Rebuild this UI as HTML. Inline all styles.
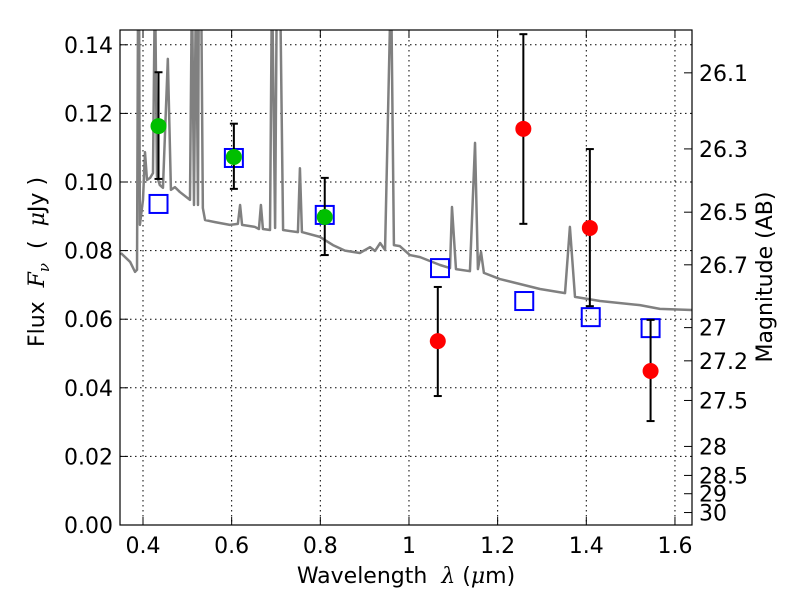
<!DOCTYPE html>
<html><head><meta charset="utf-8"><style>
body{margin:0;background:#fff;}
svg text{font-family:"DejaVu Sans","Liberation Sans",sans-serif;fill:#000;white-space:pre;}
</style></head><body>
<svg id="chart" width="800" height="600" xmlns="http://www.w3.org/2000/svg">
<defs><clipPath id="clip"><rect x="120" y="30" width="572" height="495"/></clipPath></defs>
<rect x="0" y="0" width="800" height="600" fill="#fff"/>
<g id="grid"></g>
<g id="spec" clip-path="url(#clip)"></g>
<g id="marks"></g>
<rect x="120" y="30" width="572" height="495" fill="none" stroke="#000" stroke-width="1.2"/>
<g id="axes"></g>
<text x="44" y="262" font-size="22" text-anchor="middle" transform="rotate(-90 44 262)">Flux  <tspan font-family="DejaVu Serif" font-style="italic">F</tspan><tspan font-family="DejaVu Serif" font-style="italic" font-size="15" dy="5">ν</tspan><tspan dy="-5">  (  </tspan><tspan font-family="DejaVu Serif" font-style="italic">μ</tspan>Jy )</text>
<text x="406" y="583" font-size="22" text-anchor="middle">Wavelength  <tspan font-family="DejaVu Serif" font-style="italic">λ</tspan> (<tspan font-family="DejaVu Serif" font-style="italic">μ</tspan>m)</text>
<text x="772" y="277" font-size="22" text-anchor="middle" transform="rotate(-90 772 277)">Magnitude (AB)</text>
</svg>
<script>
const specWave=[0.35,0.371,0.382,0.3865,0.389,0.391,0.393,0.4,0.4045,0.409,0.416,0.4225,0.427,0.4315,0.438,0.445,0.456,0.463,0.472,0.483,0.506,0.5105,0.515,0.5195,0.524,0.526,0.531,0.535,0.54,0.5625,0.596,0.614,0.619,0.6235,0.6525,0.6615,0.666,0.6705,0.6865,0.691,0.698,0.702,0.709,0.716,0.7315,0.7495,0.754,0.7585,0.799,0.8285,0.8555,0.889,0.912,0.9235,0.935,0.946,0.9595,0.966,0.9795,1.002,1.025,1.07,1.0925,1.097,1.106,1.1375,1.149,1.1555,1.1625,1.169,1.205,1.2955,1.352,1.363,1.3745,1.431,1.521,1.566,1.638];
const specFlux=[0.0793,0.0767,0.0738,0.0744,0.16,0.16,0.0875,0.0948,0.1087,0.1006,0.1012,0.1026,0.16,0.1017,0.0991,0.0983,0.1359,0.0977,0.0985,0.0971,0.0948,0.16,0.0933,0.16,0.0933,0.16,0.16,0.0924,0.0889,0.0883,0.0875,0.0878,0.0933,0.0875,0.0869,0.0863,0.0933,0.0863,0.086,0.16,0.0866,0.16,0.16,0.086,0.0857,0.0854,0.104,0.0854,0.084,0.0816,0.08,0.0793,0.081,0.0799,0.0822,0.0802,0.16,0.0816,0.0813,0.0787,0.0781,0.0758,0.0749,0.0927,0.0746,0.074,0.1114,0.0746,0.0796,0.0735,0.0717,0.0688,0.0676,0.0869,0.0665,0.0653,0.0641,0.063,0.0627];
const detWave=[0.435,0.605,0.81];
const detFlux=[0.1163,0.1073,0.0898];
const detHi=[0.132,0.117,0.1012];
const detLo=[0.1009,0.098,0.0787];
const redWave=[1.065,1.258,1.408,1.545];
const redFlux=[0.0536,0.1155,0.0866,0.0449];
const redHi=[0.0694,0.1431,0.1096,0.0598];
const redLo=[0.0376,0.0878,0.0638,0.0303];
const modelWave=[0.435,0.605,0.81,1.07,1.26,1.41,1.545];
const modelFlux=[0.0936,0.107,0.0904,0.0749,0.0653,0.0606,0.0574];
const xTicks=[0.4,0.6,0.8,1.0,1.2,1.4,1.6];
const xTickLabels=['0.4','0.6','0.8','1','1.2','1.4','1.6'];
const yTicks=[0,0.02,0.04,0.06,0.08,0.10,0.12,0.14];
const yTickLabels=['0.00','0.02','0.04','0.06','0.08','0.10','0.12','0.14'];
const magTicks=[26.1,26.3,26.5,26.7,27,27.2,27.5,28,28.5,29,30];
const magLabels=['26.1','26.3','26.5','26.7','27','27.2','27.5','28','28.5','29','30'];

const NS='http://www.w3.org/2000/svg';
const X=v=>143+(v-0.4)*443.3;
const Y=f=>525-f*3430;
const mag2f=m=>Math.pow(10,(23.9-m)/2.5);
function mk(tag,attrs,parent){const e=document.createElementNS(NS,tag);for(const k in attrs)e.setAttribute(k,attrs[k]);parent.appendChild(e);return e;}
const grid=document.getElementById('grid'),axes=document.getElementById('axes'),spec=document.getElementById('spec'),marks=document.getElementById('marks');

xTicks.forEach((t,i)=>{
  const x=X(t);
  let g=mk('line',{x1:x,x2:x,y1:30,y2:525,stroke:'#000','stroke-width':1,'stroke-dasharray':'1.5,3.5'},grid);
  
  
  mk('line',{x1:x,x2:x,y1:525,y2:517,stroke:'#000'},axes);
  mk('line',{x1:x,x2:x,y1:30,y2:38,stroke:'#000'},axes);
  let tx=mk('text',{x:x,y:553,'font-size':22,'text-anchor':'middle'},axes);
  tx.textContent=xTickLabels[i];
  
  
});
yTicks.forEach((t,i)=>{
  const y=Y(t);
  let g=mk('line',{x1:120,x2:692,y1:y,y2:y,stroke:'#000','stroke-width':1,'stroke-dasharray':'1.5,3.5'},grid);
  
  
  mk('line',{x1:120,x2:128,y1:y,y2:y,stroke:'#000'},axes);
  let tx=mk('text',{x:113,y:y+8,'font-size':22,'text-anchor':'end'},axes);
  tx.textContent=yTickLabels[i];
  
  
});
magTicks.forEach((m,i)=>{
  const y=Y(mag2f(m));
  mk('line',{x1:684,x2:692,y1:y,y2:y,stroke:'#000'},axes);
  let tx=mk('text',{x:699,y:y+8,'font-size':22},axes);
  tx.textContent=magLabels[i];
  
  
});

const pl=mk('polyline',{points:specWave.map((w,i)=>X(w)+','+Y(specFlux[i])).join(' '),fill:'none',stroke:'#808080','stroke-width':2.5,'stroke-linejoin':'round'},spec);



function errbar(w,lo,hi){
  const x=X(w);
  const g=mk('g',{stroke:'#000','stroke-width':2},marks);
  
  
  mk('line',{x1:x,x2:x,y1:Y(lo),y2:Y(hi)},g);
  mk('line',{x1:x-4,x2:x+4,y1:Y(lo),y2:Y(lo)},g);
  mk('line',{x1:x-4,x2:x+4,y1:Y(hi),y2:Y(hi)},g);
}
modelWave.forEach((w,i)=>{
  const r=mk('rect',{x:X(w)-9,y:Y(modelFlux[i])-9,width:18,height:18,fill:'none',stroke:'#0000ff','stroke-width':2},marks);
  
  
});
detWave.forEach((w,i)=>{
  errbar(w,detLo[i],detHi[i]);
  const c=mk('circle',{cx:X(w),cy:Y(detFlux[i]),r:8,fill:'#00bf00'},marks);
  
  
});
redWave.forEach((w,i)=>{
  errbar(w,redLo[i],redHi[i]);
  const c=mk('circle',{cx:X(w),cy:Y(redFlux[i]),r:8,fill:'#ff0000'},marks);
  
  
});
</script>
</body></html>
